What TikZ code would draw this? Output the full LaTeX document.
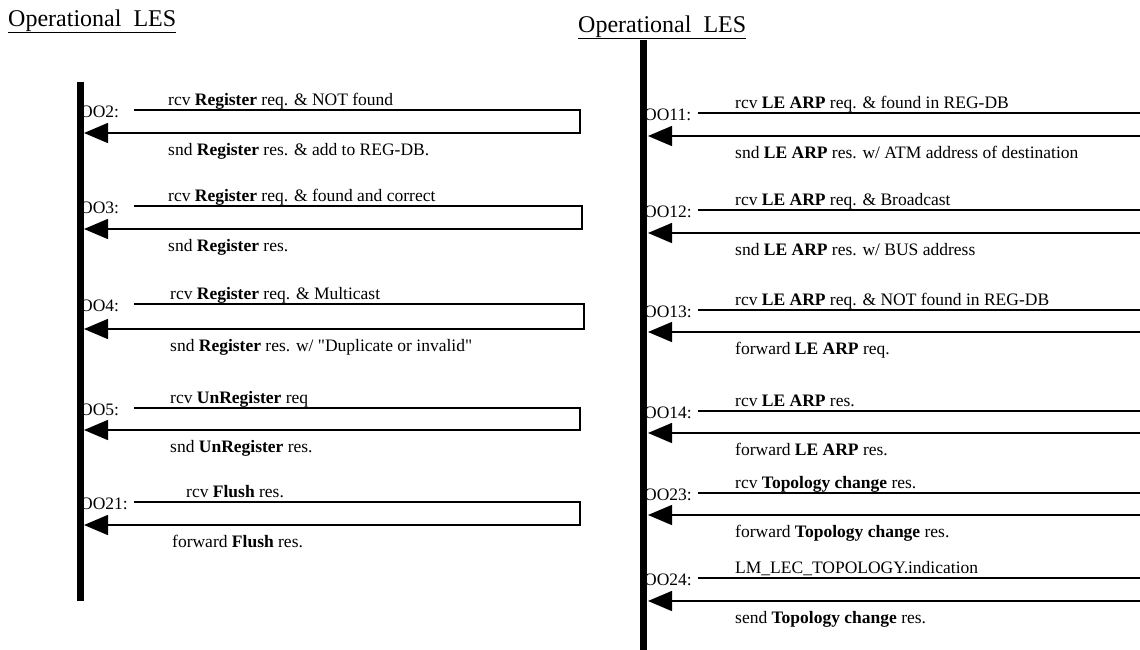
\documentclass[tikz,border=0pt]{standalone}
\usepackage{fontspec}
\setmainfont{Liberation Serif}
\usetikzlibrary{arrows.meta,calc}
\definecolor{MsgClr}{rgb}{0,0,0}

% #1 name, #2 label, #3 bar edge, #4 text x, #5 upper y, #6 lower y, #7 corner x
\newcommand{\OpMsg}[9]{%
  \node[oolabel] (#1) at (#3-4,#5+7) {#2:};
  \coordinate (#1s) at (#3+50,#5);
  \coordinate (#1r) at (#7,#5);
  \coordinate (#1d) at (#7,#6);
  \coordinate (#1e) at (#3,#6);
  \draw[msgline] (#1s) -- (#1r) -- (#1d) -- (#1e);
  \node[msgtext] (#1up) at (#4,#5-5) {#8};
  \node[msgtext] (#1dn) at (#4,#6+22) {#9};
}

\begin{document}
\begin{tikzpicture}[x=1pt,y=-1pt,
  msgline/.style={line width=1.5pt,color=MsgClr,-{Triangle[length=24pt,width=20pt]}},
  msgtext/.style={anchor=base west,inner sep=0pt,font=\fontsize{17.5}{21}\selectfont},
  oolabel/.style={anchor=base west,inner sep=0pt,font=\fontsize{17.5}{21}\selectfont},
  title/.style={anchor=base west,inner sep=0pt,font=\fontsize{24}{28}\selectfont},
  lifeline/.style={line width=7.5pt,color=MsgClr}]
\useasboundingbox (0,0) rectangle (1140,649);
\clip (0,0) rectangle (1140,649);

\node[title] (lesA) at (8,26) {\underline{Operational\ \ LES}};
\node[title] (lesB) at (578,32) {\underline{Operational\ \ LES}};

\OpMsg{oo2}{OO2}{84}{168}{110}{133}{580}
  {rcv \textbf{Register} req. \& NOT found}
  {snd \textbf{Register} res. \& add to REG-DB.}
\OpMsg{oo3}{OO3}{84}{168}{206}{229}{582}
  {rcv \textbf{Register} req. \& found and correct}
  {snd \textbf{Register} res.}
\OpMsg{oo4}{OO4}{84}{170}{304}{329}{584}
  {rcv \textbf{Register} req. \& Multicast}
  {snd \textbf{Register} res. w/ \textquotedbl Duplicate or invalid\textquotedbl}
\OpMsg{oo5}{OO5}{84}{170}{408}{430}{580}
  {rcv \textbf{UnRegister} req}
  {snd \textbf{UnRegister} res.}
\OpMsg{oo21}{OO21}{84}{172}{502}{525}{580}
  {\hspace{14pt}rcv \textbf{Flush} res.}
  {forward \textbf{Flush} res.}

\OpMsg{oo11}{OO11}{648}{735}{113}{136}{1150}
  {rcv \textbf{LE ARP} req. \& found in REG-DB}
  {snd \textbf{LE ARP} res. w/ ATM address of destination}
\OpMsg{oo12}{OO12}{648}{735}{210}{233}{1150}
  {rcv \textbf{LE ARP} req. \& Broadcast}
  {snd \textbf{LE ARP} res. w/ BUS address}
\OpMsg{oo13}{OO13}{648}{735}{310}{332}{1150}
  {rcv \textbf{LE ARP} req. \& NOT found in REG-DB}
  {forward \textbf{LE ARP} req.}
\OpMsg{oo14}{OO14}{648}{735}{411}{433}{1150}
  {rcv \textbf{LE ARP} res.}
  {forward \textbf{LE ARP} res.}
\OpMsg{oo23}{OO23}{648}{735}{493}{515}{1150}
  {rcv \textbf{Topology change}\ res.}
  {forward \textbf{Topology change}\ res.}
\OpMsg{oo24}{OO24}{648}{735}{578}{601}{1150}
  {LM\_LEC\_TOPOLOGY.indication}
  {send \textbf{Topology change}\ res.}

\coordinate (barAtop) at (80.5,82);
\coordinate (barAbot) at (80.5,601);
\coordinate (barBtop) at (643.5,40);
\coordinate (barBbot) at (643.5,660);
\draw[lifeline] (barAtop) -- (barAbot);
\draw[lifeline] (barBtop) -- (barBbot);

\end{tikzpicture}
\end{document}
